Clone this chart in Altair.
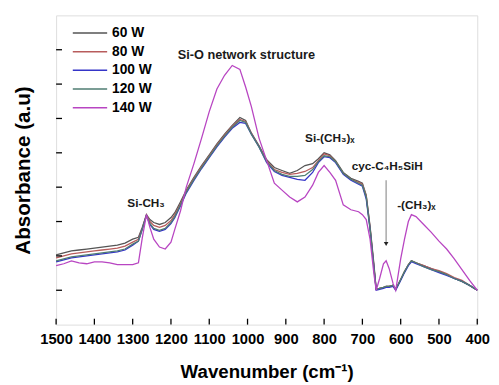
import altair as alt
import pandas as pd

# wavenumber grid (cm-1)
wavenumber = [1500, 1480, 1460, 1440, 1420, 1400, 1380, 1360, 1340, 1320, 1300, 1285, 1275, 1264,
              1255, 1245, 1230, 1215, 1200, 1190, 1175, 1160, 1140, 1120, 1100, 1080, 1060, 1040,
              1020, 1005, 990, 970, 950, 930, 910, 890, 870, 850, 830, 815, 800, 785, 770, 750,
              730, 710, 700, 690, 680, 670, 664, 655, 645, 638, 630, 620, 613, 600, 590, 580,
              572, 560, 540, 520, 500, 480, 460, 440, 420, 400]

a60 = [71, 73, 75, 76, 77, 78, 79, 80, 81, 83, 87, 89, 99, 112,
       107, 104, 102, 104, 109, 114, 125, 137, 150, 162, 173, 184, 194, 203,
       211, 208, 195, 182, 168, 160, 157, 154, 157, 162, 164, 169, 175, 173, 167, 155,
       149, 146, 144, 132, 100, 62, 36, 37, 38, 39, 39, 40, 36, 46, 54, 61,
       65, 63, 60, 57, 54, 51, 47, 44, 40, 35]
a80 = [68, 70, 72, 73, 74, 75, 76, 77, 78, 80, 84, 87, 98, 112,
       105, 101, 99, 101, 106, 112, 123, 136, 149, 161, 172, 183, 193, 202,
       209, 207, 195, 182, 167, 158, 155, 153, 154, 156, 160, 167, 174, 172, 166, 154,
       148, 145, 143, 131, 99, 60, 36, 37, 38, 39, 39, 40, 36, 46, 54, 61,
       65, 63, 60, 57, 55, 52, 48, 45, 40, 35]
a100 = [64, 66, 68, 69, 70, 71, 72, 73, 74, 76, 81, 85, 97, 111,
        102, 97, 95, 97, 103, 109, 121, 134, 147, 159, 170, 181, 191, 200,
        206, 205, 194, 181, 165, 156, 152, 150, 148, 147, 155, 165, 171, 170, 165, 153,
        147, 143, 141, 128, 97, 58, 35, 36, 37, 38, 38, 39, 35, 45, 53, 60,
        64, 62, 59, 56, 53, 50, 47, 44, 40, 35]
a120 = [65, 67, 69, 70, 71, 72, 73, 74, 75, 77, 82, 85, 97, 111,
        103, 98, 96, 98, 104, 110, 122, 135, 148, 160, 171, 182, 192, 201,
        208, 206, 194, 181, 166, 157, 153, 151, 151, 152, 158, 166, 172, 171, 166, 154,
        148, 144, 142, 130, 98, 59, 36, 37, 38, 39, 39, 40, 36, 46, 54, 61,
        65, 63, 59, 56, 54, 51, 47, 44, 40, 35]
a140 = [60, 62, 65, 63, 62, 64, 64, 63, 61, 61, 61, 63, 88, 112,
        99, 87, 79, 77, 84, 97, 116, 140, 164, 190, 217, 240, 254, 264,
        260, 242, 222, 190, 167, 144, 137, 130, 125, 130, 142, 155, 162, 155, 147, 122,
        117, 115, 112, 107, 87, 52, 35, 47, 62, 65, 57, 42, 35, 67, 87, 105,
        112, 110, 102, 94, 85, 77, 67, 56, 45, 35]

series = ["60 W", "80 W", "100 W", "120 W", "140 W"]
colors = ["#555555", "#b85c5c", "#3535c8", "#4f7d72", "#b845c2"]

x_ticks = [1500, 1400, 1300, 1200, 1100, 1000, 900, 800, 700, 600, 500, 400]
y_ticks = [35, 70, 105, 140, 175, 210, 245, 280]

ann_text = ["Si-O network structure", "Si-(CH₃)ₓ", "cyc-C₄H₅SiH", "-(CH₃)ₓ", "Si-CH₃"]
ann_w = [1003, 785, 635, 559, 1265]
ann_a = [275, 190, 161, 122, 124]
ann_size = [13, 12, 12, 12, 12]

arrow_w = [638]
arrow_top = [147]
arrow_bottom = [82]

rows = []
for name, vals in zip(series, [a60, a80, a100, a120, a140]):
    for w, v in zip(wavenumber, vals):
        rows.append({"wavenumber": w, "absorbance": v, "series": name})
df = pd.DataFrame(rows)

W, H = 429, 315
FONT = "Liberation Sans"
xscale = alt.Scale(domain=[400, 1500], reverse=True, nice=False, zero=False)
yscale = alt.Scale(domain=[0, 315], nice=False, zero=False)

XTITLE = "Wavenumber (cm⁻¹)"
YTITLE = "Absorbance (a.u)"
xaxis = alt.Axis(values=x_ticks, format="d", title=XTITLE, ticks=False,
                 domain=False, grid=False, labelFont=FONT, labelFontSize=15,
                 labelFontWeight="bold", labelColor="black", labelPadding=7,
                 labelFlush=False, labelOverlap=False, labelBound=False,
                 titleFont=FONT, titleFontSize=19, titleFontWeight="bold",
                 titleColor="black", titlePadding=17)
yaxis = alt.Axis(labels=False, ticks=False, domain=False, grid=False,
                 title=YTITLE, titleFont=FONT, titleFontSize=21,
                 titleFontWeight="bold", titleColor="black", titlePadding=23)


def X(field):
    return alt.X(field, scale=xscale, axis=xaxis, title=XTITLE)


def Y(field):
    return alt.Y(field, scale=yscale, axis=yaxis, title=YTITLE)


lines = alt.Chart(df).mark_line(strokeWidth=1.3).encode(
    x=X("wavenumber:Q"),
    y=Y("absorbance:Q"),
    color=alt.Color("series:N", scale=alt.Scale(domain=series, range=colors),
                    legend=alt.Legend(title=None, orient="none", legendX=16, legendY=10,
                                      symbolType="stroke", symbolSize=1225, symbolStrokeWidth=1.5,
                                      clipHeight=16, rowPadding=3, labelFont=FONT,
                                      labelFontSize=14, labelFontWeight="bold",
                                      labelColor="black", labelOffset=4, padding=0)),
)

xt = alt.Chart(pd.DataFrame({"w": x_ticks})).mark_rule(color="black", strokeWidth=1.3).encode(
    x=X("w:Q"), y=alt.value(H), y2=alt.value(H - 6))
yt = alt.Chart(pd.DataFrame({"a": y_ticks})).mark_rule(color="black", strokeWidth=1.3).encode(
    y=Y("a:Q"), x=alt.value(0), x2=alt.value(6))

ann_df = pd.DataFrame({"t": ann_text, "w": ann_w, "a": ann_a, "s": ann_size})
ann = alt.Chart(ann_df).mark_text(font=FONT, fontWeight="bold", color="#1a1a1a",
                                  align="center", baseline="middle").encode(
    x=X("w:Q"), y=Y("a:Q"),
    text="t:N", size=alt.Size("s:Q", scale=None, legend=None))

arr_df = pd.DataFrame({"w": arrow_w, "top": arrow_top, "bottom": arrow_bottom})
arrow_line = alt.Chart(arr_df).mark_rule(color="#a8a8a8", strokeWidth=1.5).encode(
    x=X("w:Q"), y=Y("top:Q"), y2="bottom:Q")
arrow_head = alt.Chart(arr_df).mark_point(shape="triangle-down", filled=True, color="#222222",
                                          size=22, opacity=1).encode(
    x=X("w:Q"), y=Y("bottom:Q"))

chart = alt.layer(lines, xt, yt, arrow_line, arrow_head, ann).properties(
    width=W, height=H,
    autosize=alt.AutoSizeParams(type="none"),
    padding={"left": 49, "top": 4, "right": 14, "bottom": 58},
).configure_view(stroke="black", strokeWidth=1.6).configure(background="white")

chart.save("out.html", embed_options={"renderer": "svg", "actions": False})
